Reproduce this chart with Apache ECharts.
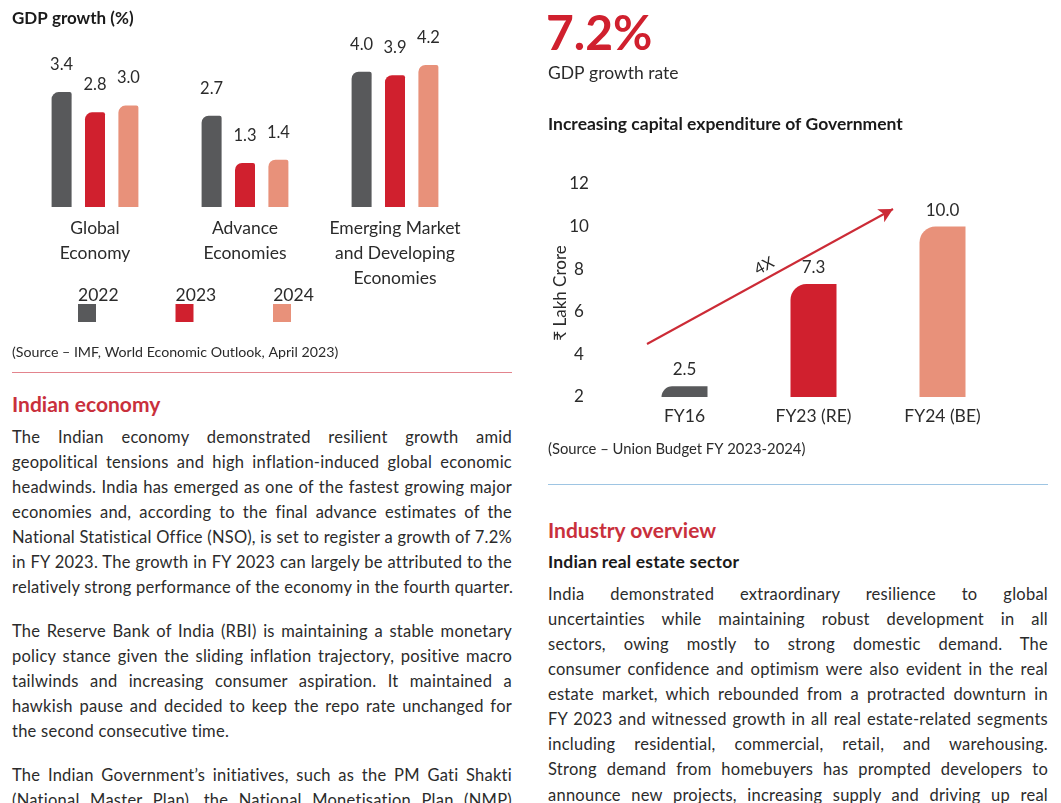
<!DOCTYPE html>
<html>
<head>
<meta charset="utf-8">
<script src="https://cdn.jsdelivr.net/npm/echarts@6/dist/echarts.min.js"></script>
<style>
html,body{margin:0;padding:0;background:#fff;width:1061px;height:803px;overflow:hidden;font-family:Lato,"Open Sans",sans-serif;color:#2b2b2b}
#c1{position:absolute;left:0;top:0;width:525px;height:370px}
#c2{position:absolute;left:530px;top:0;width:531px;height:470px}
.rule{position:absolute;height:0;width:500px}
.h{position:absolute;font-weight:700;font-size:21px;color:#c9303c;line-height:24px;white-space:nowrap}
.sub{position:absolute;font-weight:700;font-size:17.5px;letter-spacing:0.2px;color:#1a1a1a;line-height:20px;white-space:nowrap}
.para{position:absolute;width:500px;font-size:16.5px;letter-spacing:0.25px;line-height:25.15px}
.para div{text-align:justify;text-align-last:justify;white-space:nowrap;height:25.15px}
.para div.l{text-align-last:left}
</style>
</head>
<body>
<div id="c1"></div>
<div id="c2"></div>

<div class="rule" style="left:12px;top:372px;border-top:1.5px solid #e3848d"></div>
<div class="h" style="left:12px;top:392px">Indian economy</div>
<div class="para" style="left:12px;top:424.5px">
<div>The Indian economy demonstrated resilient growth amid</div>
<div>geopolitical tensions and high inflation-induced global economic</div>
<div>headwinds. India has emerged as one of the fastest growing major</div>
<div>economies and, according to the final advance estimates of the</div>
<div>National Statistical Office (NSO), is set to register a growth of 7.2%</div>
<div>in FY 2023. The growth in FY 2023 can largely be attributed to the</div>
<div>relatively strong performance of the economy in the fourth quarter.</div>
</div>
<div class="para" style="left:12px;top:618.5px">
<div>The Reserve Bank of India (RBI) is maintaining a stable monetary</div>
<div>policy stance given the sliding inflation trajectory, positive macro</div>
<div>tailwinds and increasing consumer aspiration. It maintained a</div>
<div>hawkish pause and decided to keep the repo rate unchanged for</div>
<div class="l">the second consecutive time.</div>
</div>
<div class="para" style="left:12px;top:762.5px">
<div>The Indian Government’s initiatives, such as the PM Gati Shakti</div>
<div>(National Master Plan), the National Monetisation Plan (NMP)</div>
</div>

<div class="rule" style="left:548px;top:483.5px;border-top:1.5px solid #9ec5e3"></div>
<div class="h" style="left:548px;top:518px">Industry overview</div>
<div class="sub" style="left:548px;top:552px">Indian real estate sector</div>
<div class="para" style="left:548px;top:581.5px">
<div>India demonstrated extraordinary resilience to global</div>
<div>uncertainties while maintaining robust development in all</div>
<div>sectors, owing mostly to strong domestic demand. The</div>
<div>consumer confidence and optimism were also evident in the real</div>
<div>estate market, which rebounded from a protracted downturn in</div>
<div>FY 2023 and witnessed growth in all real estate-related segments</div>
<div>including residential, commercial, retail, and warehousing.</div>
<div>Strong demand from homebuyers has prompted developers to</div>
<div>announce new projects, increasing supply and driving up real</div>
</div>

<script>
// ---- Data ----
const gdpCategories = ['Global\nEconomy', 'Advance\nEconomies', 'Emerging Market\nand Developing\nEconomies'];
const gdpYears = ['2022', '2023', '2024'];
const gdp2022 = [3.4, 2.7, 4.0];
const gdp2023 = [2.8, 1.3, 3.9];
const gdp2024 = [3.0, 1.4, 4.2];

const capexCategories = ['FY16', 'FY23 (RE)', 'FY24 (BE)'];
const capexValues = [2.5, 7.3, 10.0];
const capexAxisMin = 2, capexAxisMax = 12, capexAxisStep = 2;
const capexAxisName = '₹ Lakh Crore';
const capexArrowLabel = '4X';

const palette = ['#58595b', '#d0202e', '#e8917a'];
const txt = '#2b2b2b';
const FONT = 'Lato, "Open Sans", sans-serif';

// ---- Chart 1: GDP growth ----
const c1 = echarts.init(document.getElementById('c1'), null, {renderer: 'canvas'});
const gdpSeriesData = [gdp2022, gdp2023, gdp2024];
c1.setOption({
  animation: false,
  textStyle: {fontFamily: FONT},
  title: {text: 'GDP growth (%)', left: 12, top: 10, padding: 0,
    textStyle: {fontSize: 17, fontWeight: 'bold', color: '#1a1a1a', fontFamily: FONT}},
  legend: [
    {data: gdpYears, left: 73, top: 286, itemWidth: 0, itemHeight: 0, itemGap: 52, icon: 'rect', padding: 0,
      selectedMode: false, textStyle: {fontSize: 17.5, color: txt, fontFamily: FONT}},
    {data: gdpYears, left: 78, top: 304, itemWidth: 18, itemHeight: 18, itemGap: 79.5, icon: 'rect', padding: 0,
      selectedMode: false, formatter: function () { return ''; }}
  ],
  grid: {left: 20, width: 450, top: 38, height: 169},
  xAxis: {type: 'category', data: gdpCategories,
    axisLine: {show: false}, axisTick: {show: false},
    axisLabel: {fontSize: 17.5, color: txt, lineHeight: 25, margin: 9, fontFamily: FONT, interval: 0}},
  yAxis: {type: 'value', min: 0, max: 5, show: false},
  series: gdpSeriesData.map(function (d, i) {
    return {
      name: gdpYears[i], type: 'bar', data: d, barWidth: 20, barGap: '67%',
      itemStyle: {color: palette[i], borderRadius: [7, 2, 0, 0]},
      label: {show: true, position: 'top', distance: 19, fontSize: 16.5, color: txt, fontFamily: FONT,
        formatter: function (p) { return p.value.toFixed(1); }}
    };
  }),
  graphic: [{type: 'text', left: 12, top: 345,
    style: {text: '(Source – IMF, World Economic Outlook, April 2023)', fontSize: 14.2, fill: txt, fontFamily: FONT}}]
});

// ---- Chart 2: Capital expenditure ----
const c2 = echarts.init(document.getElementById('c2'), null, {renderer: 'canvas'});
c2.setOption({
  animation: false,
  textStyle: {fontFamily: FONT},
  title: [
    {text: '7.2%', left: 16, top: 11, padding: 0,
      textStyle: {fontSize: 48, fontWeight: 'bold', color: '#d0202e', fontFamily: FONT}},
    {text: 'GDP growth rate', left: 18, top: 64, padding: 0,
      textStyle: {fontSize: 17.5, fontWeight: 'normal', color: txt, fontFamily: FONT}},
    {text: 'Increasing capital expenditure of Government', left: 18, top: 115, padding: 0,
      textStyle: {fontSize: 17.5, fontWeight: 'bold', color: '#1a1a1a', fontFamily: FONT}}
  ],
  grid: {left: 90, width: 387, top: 184, height: 213},
  xAxis: {type: 'category', data: capexCategories,
    axisLine: {show: false}, axisTick: {show: false},
    axisLabel: {fontSize: 17.5, color: txt, margin: 10, fontFamily: FONT}},
  yAxis: {type: 'value', min: capexAxisMin, max: capexAxisMax, interval: capexAxisStep,
    axisLine: {show: false}, axisTick: {show: false}, splitLine: {show: false},
    axisLabel: {fontSize: 17, color: txt, align: 'center', margin: 41, fontFamily: FONT}},
  series: [{
    type: 'bar', barWidth: 46,
    data: capexValues.map(function (v, i) { return {value: v, itemStyle: {color: palette[i]}}; }),
    itemStyle: {borderRadius: [16, 0, 0, 0]},
    label: {show: true, position: 'top', distance: 8, fontSize: 17, color: txt, fontFamily: FONT,
      formatter: function (p) { return p.value.toFixed(1); }},
    markLine: {
      silent: true, animation: false,
      symbol: ['none', 'arrow'], symbolSize: [11, 14],
      lineStyle: {color: '#cc2b36', width: 2, type: 'solid'},
      label: {show: true, formatter: capexArrowLabel, position: 'insideMiddleTop', distance: 4,
        fontSize: 16, color: txt, fontFamily: FONT},
      data: [[{x: 117, y: 344}, {x: 363, y: 209}]]
    }
  }],
  graphic: [
    {type: 'text', x: 31, y: 293, rotation: Math.PI / 2,
      style: {text: capexAxisName, fontSize: 17, fill: txt, fontFamily: FONT, align: 'center', verticalAlign: 'middle'}},
    {type: 'text', left: 18, top: 442,
      style: {text: '(Source – Union Budget FY 2023-2024)', fontSize: 14.8, fill: txt, fontFamily: FONT}}
  ]
});
</script>
</body>
</html>
